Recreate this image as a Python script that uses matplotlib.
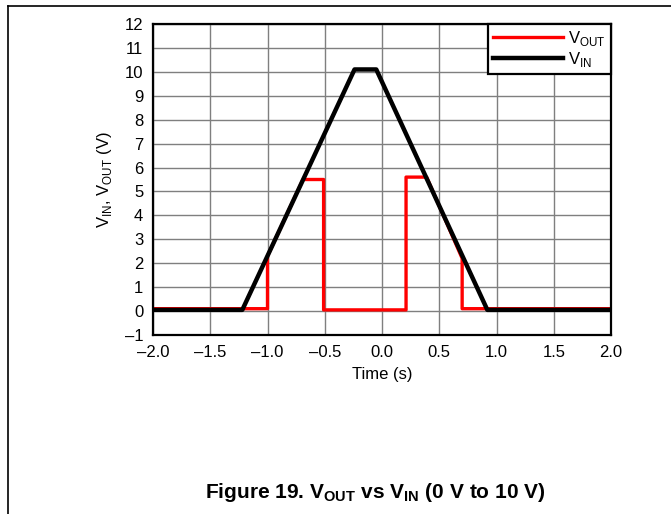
import matplotlib
matplotlib.use("Agg")
import matplotlib.pyplot as plt
from matplotlib.lines import Line2D

plt.rcParams['font.family'] = ['Liberation Sans', 'DejaVu Sans']
plt.rcParams['mathtext.fontset'] = 'custom'
plt.rcParams['mathtext.rm'] = 'Liberation Sans'
plt.rcParams['mathtext.bf'] = 'Liberation Sans:bold'

# breakpoints
t_vin = [-2.0, -1.22, -0.24, -0.05, 0.92, 2.0]
vin = [0.05, 0.05, 10.1, 10.1, 0.05, 0.05]

t_vout = [-2.0, -1.0, -1.0, -0.69, -0.51, -0.51, 0.21, 0.21, 0.39, 0.70, 0.70, 2.0]
vout = [0.1, 0.1, 2.3, 5.5, 5.5, 0.05, 0.05, 5.6, 5.6, 2.2, 0.1, 0.1]

x_ticks = [-2.0, -1.5, -1.0, -0.5, 0.0, 0.5, 1.0, 1.5, 2.0]
y_ticks = list(range(-1, 13))

fig = plt.figure(figsize=(6.71, 5.14), dpi=100)
ax = fig.add_axes([153/671, 1 - 335/514, 458/671, 311/514])

ax.plot(t_vout, vout, color='#ff0000', lw=2.4, label=r'V$_{\mathregular{OUT}}$')
ax.plot(t_vin, vin, color='black', lw=3.2, label=r'V$_{\mathregular{IN}}$')

ax.set_xlim(-2, 2)
ax.set_ylim(-1, 12)
ax.set_xticks(x_ticks)
ax.set_xticklabels(['%.1f' % v if v >= 0 else '\u2013%.1f' % -v for v in x_ticks])
ax.set_yticks(y_ticks)
ax.set_yticklabels([str(v) if v >= 0 else '\u2013%d' % -v for v in y_ticks])
ax.tick_params(labelsize=12, length=0, pad=7)
ax.grid(True, color='#7f7f7f', lw=1.0)
ax.set_axisbelow(True)
for sp in ax.spines.values():
    sp.set_linewidth(1.6)
    sp.set_color('black')

ax.set_xlabel('Time (s)', fontsize=12, labelpad=5)
ax.set_ylabel(r'V$_{\mathregular{IN}}$, V$_{\mathregular{OUT}}$ (V)', fontsize=12, labelpad=8)

leg = ax.legend(loc='upper right', fontsize=12, frameon=True, fancybox=False,
                borderaxespad=0, handlelength=4.2, handletextpad=0.3,
                labelspacing=0.1, borderpad=0.3)
leg.get_frame().set_edgecolor('black')
leg.get_frame().set_linewidth(1.6)
leg.get_frame().set_alpha(1)

fig.text(375/671, 1 - 492/514, r'Figure 19. V$_{\mathbf{OUT}}$ vs V$_{\mathbf{IN}}$ (0 V to 10 V)',
         ha='center', va='center', fontsize=15, fontweight='bold')

# page frame
fig.add_artist(Line2D([8/671, 1.0], [1 - 6/514, 1 - 6/514], color='black', lw=1.2))
fig.add_artist(Line2D([8/671, 8/671], [1 - 6/514, 0.0], color='black', lw=1.2))

fig.savefig('out.png', dpi=100)
